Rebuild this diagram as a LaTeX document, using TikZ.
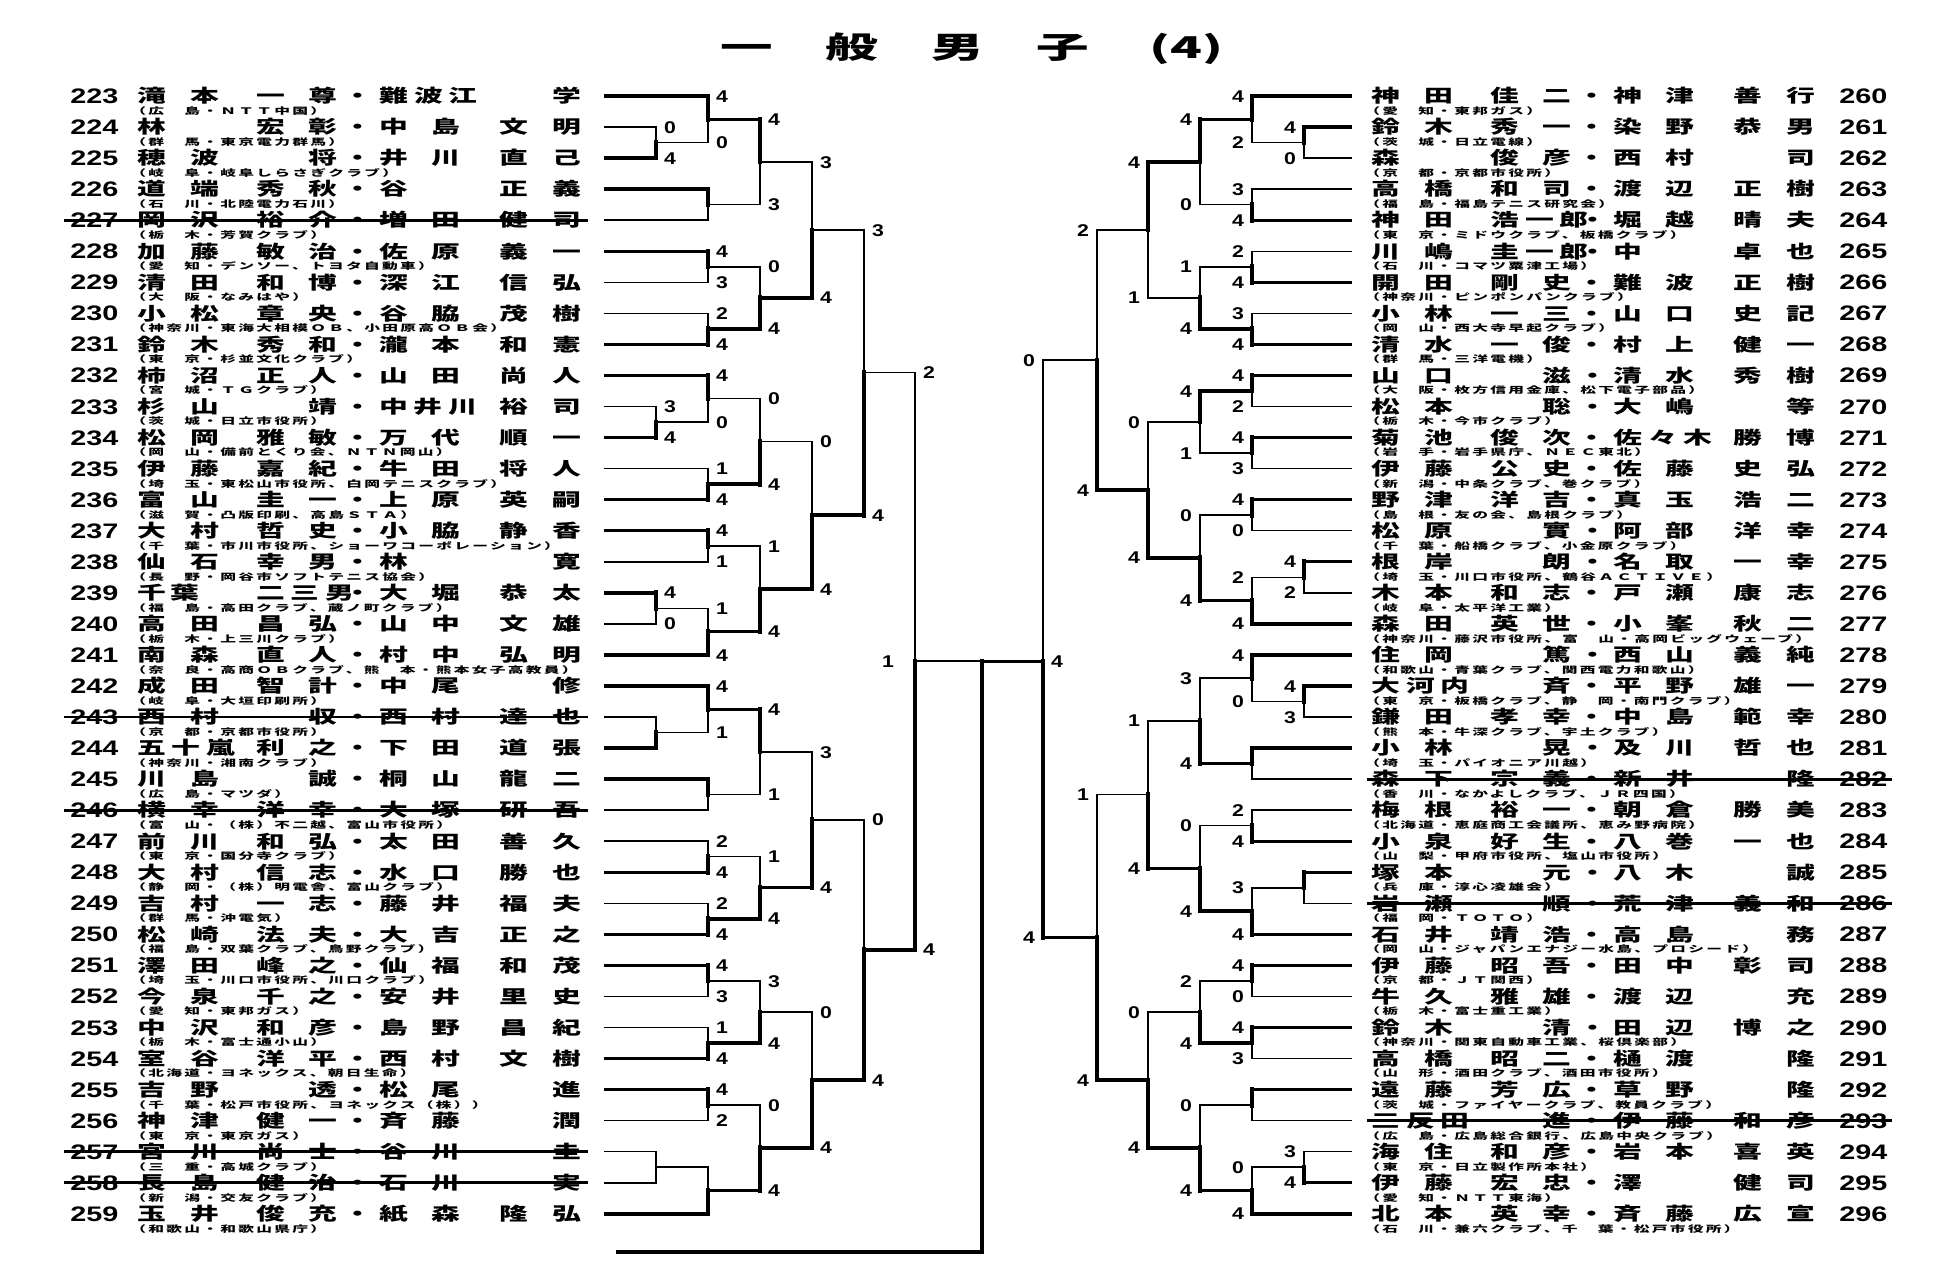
\documentclass[tikz,border=0pt]{standalone}
\usepackage{fontspec}
\usetikzlibrary{calc}
\newfontfamily\cjk{Noto Sans CJK JP}[FakeStretch=1.6]
\newfontfamily\cjkaff{Noto Sans CJK JP}[FakeStretch=1.75,LetterSpace=25]
\newfontfamily\cjkttl{Noto Sans CJK JP}[FakeStretch=1.75]
\newfontfamily\numfont{Liberation Sans}[FakeStretch=1.37]
\newfontfamily\scfont{Liberation Sans}[FakeStretch=1.25]
% name layout: slots A B C D . E F G H
\newcommand\nm[8]{\rlap{#1}\hspace{26.5pt}\rlap{#2}\hspace{33pt}\rlap{#3}\hspace{26pt}\rlap{#4}\hspace{25pt}\makebox[0pt]{・}\hspace{10.5pt}\rlap{#5}\hspace{26pt}\rlap{#6}\hspace{34pt}\rlap{#7}\hspace{26.5pt}#8}
\newcommand\tri[3]{#1\hspace{3pt}#2\hspace{3pt}#3}
\newcommand\duo[2]{#1\hspace{2.5pt}#2}
\tikzset{
 namef/.style={font=\cjk\bfseries\fontsize{9}{9}\selectfont, inner sep=0pt, text height=7.5pt, text depth=0.7pt, anchor=west},
 afff/.style={font=\cjkaff\bfseries\fontsize{4.5}{4.5}\selectfont, inner sep=0pt, text height=3.4pt, text depth=0pt, anchor=west},
 numf/.style={font=\numfont\bfseries\fontsize{10.5}{10.5}\selectfont, inner sep=0pt, text height=7.52pt, text depth=0pt, anchor=west},
 scf/.style={font=\scfont\bfseries\fontsize{8.5}{8.5}\selectfont, inner sep=0pt, text height=6.1pt, text depth=0pt},
 ttlf/.style={font=\cjkttl\bfseries\fontsize{15}{15}\selectfont, inner sep=0pt, text height=11.4pt, text depth=0pt},
 thn/.style={line width=0.75pt, line join=miter},
 thkh/.style={line width=1.7pt},
 thkv/.style={line width=2.4pt, line cap=rect},
 strk/.style={line width=1.4pt},
}
\newcommand\Lrow[4]{%
 \node[numf] (Ln#1) at (70,{96+31.05*#1}) {#2};
 \node[namef] (Lm#1) at (136.8,{96+31.05*#1}) {#3};
 \node[afff] (La#1) at (130,{111+31.05*#1}) {#4};
 \coordinate (L#1) at (604,{96+31.05*#1});}
\newcommand\Rrow[4]{%
 \node[namef] (Rm#1) at (1371,{96+31.05*#1}) {#3};
 \node[numf] (Rn#1) at (1839,{96+31.05*#1}) {#2};
 \node[afff] (Ra#1) at (1364,{111+31.05*#1}) {#4};
 \coordinate (R#1) at (1352,{96+31.05*#1});}
\newcommand\Lstrike[1]{\draw[strk] ([xshift=-3pt]Ln#1.west) -- ([xshift=225.5pt]Lm#1.west);}
\newcommand\Rstrike[1]{\draw[strk] ([xshift=-2pt]Rm#1.west) -- ([xshift=2pt]Rn#1.east);}
\def\lsh{7pt}
\newcommand\mt[7]{%
 \coordinate (#1t) at (#3 -| #2);
 \coordinate (#1b) at (#4 -| #2);
 \coordinate (#1) at ($(#1t)!0.5!(#1b)$);
 \if t#5
   \draw[thn] (#4) -- (#1b) -- (#1);
   \draw[thkh] (#3) -- (#1t);
   \draw[thkv] (#1t) -- (#1);
 \else\if b#5
   \draw[thn] (#3) -- (#1t) -- (#1);
   \draw[thkh] (#4) -- (#1b);
   \draw[thkv] (#1b) -- (#1);
 \else
   \draw[thn] (#3) -- (#1t) -- (#1b) -- (#4);
 \fi\fi
 \if\relax\detokenize{#6}\relax\else \node[scf] (#1tl) at ([xshift=\lsh]#1t) {#6};\fi
 \if\relax\detokenize{#7}\relax\else \node[scf] (#1bl) at ([xshift=\lsh]#1b) {#7};\fi
}
\begin{document}
\begin{tikzpicture}[x=0.5pt,y=-0.5pt]
\fill[white] (0,0) rectangle (1944,1284);
\useasboundingbox (0,0) rectangle (1944,1284);
\node[ttlf] (title) at (972,47) {一\hspace{26.5pt}般\hspace{26.5pt}男\hspace{26.5pt}子\hspace{30pt}(4)};
% ---------------- left entries
\Lrow{0}{223}{\nm{滝}{本}{一}{尊}{\tri{難}{波}{江}}{}{}{学}}{（広　島・ＮＴＴ中国）}
\Lrow{1}{224}{\nm{林}{}{宏}{彰}{中}{島}{文}{明}}{（群　馬・東京電力群馬）}
\Lrow{2}{225}{\nm{穂}{波}{}{将}{井}{川}{直}{己}}{（岐　阜・岐阜しらさぎクラブ）}
\Lrow{3}{226}{\nm{道}{端}{秀}{秋}{谷}{}{正}{義}}{（石　川・北陸電力石川）}
\Lrow{4}{227}{\nm{岡}{沢}{裕}{介}{増}{田}{健}{司}}{（栃　木・芳賀クラブ）}
\Lrow{5}{228}{\nm{加}{藤}{敏}{治}{佐}{原}{義}{一}}{（愛　知・デンソー、トヨタ自動車）}
\Lrow{6}{229}{\nm{清}{田}{和}{博}{深}{江}{信}{弘}}{（大　阪・なみはや）}
\Lrow{7}{230}{\nm{小}{松}{章}{央}{谷}{脇}{茂}{樹}}{（神奈川・東海大相模ＯＢ、小田原高ＯＢ会）}
\Lrow{8}{231}{\nm{鈴}{木}{秀}{和}{瀧}{本}{和}{憲}}{（東　京・杉並文化クラブ）}
\Lrow{9}{232}{\nm{柿}{沼}{正}{人}{山}{田}{尚}{人}}{（宮　城・ＴＧクラブ）}
\Lrow{10}{233}{\nm{杉}{山}{}{靖}{\tri{中}{井}{川}}{}{裕}{司}}{（茨　城・日立市役所）}
\Lrow{11}{234}{\nm{松}{岡}{雅}{敏}{万}{代}{順}{一}}{（岡　山・備前とくり会、ＮＴＮ岡山）}
\Lrow{12}{235}{\nm{伊}{藤}{嘉}{紀}{牛}{田}{将}{人}}{（埼　玉・東松山市役所、白岡テニスクラブ）}
\Lrow{13}{236}{\nm{富}{山}{圭}{一}{上}{原}{英}{嗣}}{（滋　賀・凸版印刷、高島ＳＴＡ）}
\Lrow{14}{237}{\nm{大}{村}{哲}{史}{小}{脇}{静}{香}}{（千　葉・市川市役所、ショーワコーポレーション）}
\Lrow{15}{238}{\nm{仙}{石}{幸}{男}{林}{}{}{寛}}{（長　野・岡谷市ソフトテニス協会）}
\Lrow{16}{239}{\nm{\duo{千}{葉}}{}{\tri{二}{三}{男}}{}{大}{堀}{恭}{太}}{（福　島・高田クラブ、蔵ノ町クラブ）}
\Lrow{17}{240}{\nm{高}{田}{昌}{弘}{山}{中}{文}{雄}}{（栃　木・上三川クラブ）}
\Lrow{18}{241}{\nm{南}{森}{直}{人}{村}{中}{弘}{明}}{（奈　良・高商ＯＢクラブ、熊　本・熊本女子高教員）}
\Lrow{19}{242}{\nm{成}{田}{智}{計}{中}{尾}{}{修}}{（岐　阜・大垣印刷所）}
\Lrow{20}{243}{\nm{西}{村}{}{収}{西}{村}{達}{也}}{（京　都・京都市役所）}
\Lrow{21}{244}{\nm{\tri{五}{十}{嵐}}{}{利}{之}{下}{田}{道}{張}}{（神奈川・湘南クラブ）}
\Lrow{22}{245}{\nm{川}{島}{}{誠}{桐}{山}{龍}{二}}{（広　島・マツダ）}
\Lrow{23}{246}{\nm{横}{幸}{洋}{幸}{大}{塚}{研}{吾}}{（富　山・（株）不二越、富山市役所）}
\Lrow{24}{247}{\nm{前}{川}{和}{弘}{太}{田}{善}{久}}{（東　京・国分寺クラブ）}
\Lrow{25}{248}{\nm{大}{村}{信}{志}{水}{口}{勝}{也}}{（静　岡・（株）明電舎、富山クラブ）}
\Lrow{26}{249}{\nm{吉}{村}{一}{志}{藤}{井}{福}{夫}}{（群　馬・沖電気）}
\Lrow{27}{250}{\nm{松}{崎}{法}{夫}{大}{吉}{正}{之}}{（福　島・双葉クラブ、鳥野クラブ）}
\Lrow{28}{251}{\nm{澤}{田}{峰}{之}{仙}{福}{和}{茂}}{（埼　玉・川口市役所、川口クラブ）}
\Lrow{29}{252}{\nm{今}{泉}{千}{之}{安}{井}{里}{史}}{（愛　知・東邦ガス）}
\Lrow{30}{253}{\nm{中}{沢}{和}{彦}{島}{野}{昌}{紀}}{（栃　木・富士通小山）}
\Lrow{31}{254}{\nm{室}{谷}{洋}{平}{西}{村}{文}{樹}}{（北海道・ヨネックス、朝日生命）}
\Lrow{32}{255}{\nm{吉}{野}{}{透}{松}{尾}{}{進}}{（千　葉・松戸市役所、ヨネックス（株））}
\Lrow{33}{256}{\nm{神}{津}{健}{一}{斉}{藤}{}{潤}}{（東　京・東京ガス）}
\Lrow{34}{257}{\nm{宮}{川}{尚}{士}{谷}{川}{}{圭}}{（三　重・高城クラブ）}
\Lrow{35}{258}{\nm{長}{島}{健}{治}{石}{川}{}{実}}{（新　潟・交友クラブ）}
\Lrow{36}{259}{\nm{玉}{井}{俊}{充}{紙}{森}{隆}{弘}}{（和歌山・和歌山県庁）}
\Lstrike{4}\Lstrike{20}\Lstrike{23}\Lstrike{34}\Lstrike{35}
% ---------------- right entries
\Rrow{0}{260}{\nm{神}{田}{佳}{二}{神}{津}{善}{行}}{（愛　知・東邦ガス）}
\Rrow{1}{261}{\nm{鈴}{木}{秀}{一}{染}{野}{恭}{男}}{（茨　城・日立電線）}
\Rrow{2}{262}{\nm{森}{}{俊}{彦}{西}{村}{}{司}}{（京　都・京都市役所）}
\Rrow{3}{263}{\nm{高}{橋}{和}{司}{渡}{辺}{正}{樹}}{（福　島・福島テニス研究会）}
\Rrow{4}{264}{\nm{神}{田}{\tri{浩}{一}{郎}}{}{堀}{越}{晴}{夫}}{（東　京・ミドウクラブ、板橋クラブ）}
\Rrow{5}{265}{\nm{川}{嶋}{\tri{圭}{一}{郎}}{}{中}{}{卓}{也}}{（石　川・コマツ粟津工場）}
\Rrow{6}{266}{\nm{開}{田}{剛}{史}{難}{波}{正}{樹}}{（神奈川・ピンポンパンクラブ）}
\Rrow{7}{267}{\nm{小}{林}{一}{三}{山}{口}{史}{記}}{（岡　山・西大寺早起クラブ）}
\Rrow{8}{268}{\nm{清}{水}{一}{俊}{村}{上}{健}{一}}{（群　馬・三洋電機）}
\Rrow{9}{269}{\nm{山}{口}{}{滋}{清}{水}{秀}{樹}}{（大　阪・枚方信用金庫、松下電子部品）}
\Rrow{10}{270}{\nm{松}{本}{}{聡}{大}{嶋}{}{等}}{（栃　木・今市クラブ）}
\Rrow{11}{271}{\nm{菊}{池}{俊}{次}{\tri{佐}{々}{木}}{}{勝}{博}}{（岩　手・岩手県庁、ＮＥＣ東北）}
\Rrow{12}{272}{\nm{伊}{藤}{公}{史}{佐}{藤}{史}{弘}}{（新　潟・中条クラブ、巻クラブ）}
\Rrow{13}{273}{\nm{野}{津}{洋}{吉}{真}{玉}{浩}{二}}{（島　根・友の会、島根クラブ）}
\Rrow{14}{274}{\nm{松}{原}{}{實}{阿}{部}{洋}{幸}}{（千　葉・船橋クラブ、小金原クラブ）}
\Rrow{15}{275}{\nm{根}{岸}{}{朗}{名}{取}{一}{幸}}{（埼　玉・川口市役所、鶴谷ＡＣＴＩＶＥ）}
\Rrow{16}{276}{\nm{木}{本}{和}{志}{戸}{瀬}{康}{志}}{（岐　阜・太平洋工業）}
\Rrow{17}{277}{\nm{森}{田}{英}{世}{小}{峯}{秋}{二}}{（神奈川・藤沢市役所、富　山・高岡ビッグウェーブ）}
\Rrow{18}{278}{\nm{住}{岡}{}{篤}{西}{山}{義}{純}}{（和歌山・青葉クラブ、関西電力和歌山）}
\Rrow{19}{279}{\nm{\tri{大}{河}{内}}{}{}{斉}{平}{野}{雄}{一}}{（東　京・板橋クラブ、静　岡・南門クラブ）}
\Rrow{20}{280}{\nm{鎌}{田}{孝}{幸}{中}{島}{範}{幸}}{（熊　本・牛深クラブ、宇土クラブ）}
\Rrow{21}{281}{\nm{小}{林}{}{晃}{及}{川}{哲}{也}}{（埼　玉・パイオニア川越）}
\Rrow{22}{282}{\nm{森}{下}{宗}{義}{新}{井}{}{隆}}{（香　川・なかよしクラブ、ＪＲ四国）}
\Rrow{23}{283}{\nm{梅}{根}{裕}{一}{朝}{倉}{勝}{美}}{（北海道・恵庭商工会議所、恵み野病院）}
\Rrow{24}{284}{\nm{小}{泉}{好}{生}{八}{巻}{一}{也}}{（山　梨・甲府市役所、塩山市役所）}
\Rrow{25}{285}{\nm{塚}{本}{}{元}{八}{木}{}{誠}}{（兵　庫・淳心凌雄会）}
\Rrow{26}{286}{\nm{岩}{瀬}{}{順}{荒}{津}{義}{和}}{（福　岡・ＴＯＴＯ）}
\Rrow{27}{287}{\nm{石}{井}{靖}{浩}{高}{島}{}{務}}{（岡　山・ジャパンエナジー水島、プロシード）}
\Rrow{28}{288}{\nm{伊}{藤}{昭}{吾}{田}{中}{彰}{司}}{（京　都・ＪＴ関西）}
\Rrow{29}{289}{\nm{牛}{久}{雅}{雄}{渡}{辺}{}{充}}{（栃　木・富士重工業）}
\Rrow{30}{290}{\nm{鈴}{木}{}{清}{田}{辺}{博}{之}}{（神奈川・関東自動車工業、桜倶楽部）}
\Rrow{31}{291}{\nm{高}{橋}{昭}{二}{樋}{渡}{}{隆}}{（山　形・酒田クラブ、酒田市役所）}
\Rrow{32}{292}{\nm{遠}{藤}{芳}{広}{草}{野}{}{隆}}{（茨　城・ファイヤークラブ、教員クラブ）}
\Rrow{33}{293}{\nm{\tri{三}{反}{田}}{}{}{進}{伊}{藤}{和}{彦}}{（広　島・広島総合銀行、広島中央クラブ）}
\Rrow{34}{294}{\nm{海}{住}{和}{彦}{岩}{本}{喜}{英}}{（東　京・日立製作所本社）}
\Rrow{35}{295}{\nm{伊}{藤}{宏}{忠}{澤}{}{健}{司}}{（愛　知・ＮＴＴ東海）}
\Rrow{36}{296}{\nm{北}{本}{英}{幸}{斉}{藤}{広}{宣}}{（石　川・兼六クラブ、千　葉・松戸市役所）}
\Rstrike{22}\Rstrike{26}\Rstrike{33}
% ---------------- x levels
\coordinate (XLp) at (656,0);
\coordinate (XL1) at (708,0);
\coordinate (XL2) at (760,0);
\coordinate (XL3) at (812,0);
\coordinate (XL4) at (864,0);
\coordinate (XL5) at (915,0);
\coordinate (XLc) at (982,0);
\coordinate (XRp) at (1304,0);
\coordinate (XR1) at (1252,0);
\coordinate (XR2) at (1200,0);
\coordinate (XR3) at (1148,0);
\coordinate (XR4) at (1097,0);
\coordinate (XR5) at (1043,0);
\coordinate (Lend) at (616,1252);
% ---------------- left bracket
\def\lsh{7pt}
\mt{mla}{XLp}{L1}{L2}{b}{0}{4}
\mt{mlb}{XLp}{L10}{L11}{b}{3}{4}
\mt{mlc}{XLp}{L16}{L17}{t}{4}{0}
\mt{mld}{XLp}{L20}{L21}{b}{}{}
\mt{mle}{XLp}{L34}{L35}{n}{}{}
\mt{ml1a}{XL1}{L0}{mla}{t}{4}{0}
\mt{ml1b}{XL1}{L3}{L4}{t}{}{}
\mt{ml1c}{XL1}{L5}{L6}{t}{4}{3}
\mt{ml1d}{XL1}{L7}{L8}{b}{2}{4}
\mt{ml1e}{XL1}{L9}{mlb}{t}{4}{0}
\mt{ml1f}{XL1}{L12}{L13}{b}{1}{4}
\mt{ml1g}{XL1}{L14}{L15}{t}{4}{1}
\mt{ml1h}{XL1}{mlc}{L18}{b}{1}{4}
\mt{ml1i}{XL1}{L19}{mld}{t}{4}{1}
\mt{ml1j}{XL1}{L22}{L23}{t}{}{}
\mt{ml1k}{XL1}{L24}{L25}{b}{2}{4}
\mt{ml1l}{XL1}{L26}{L27}{b}{2}{4}
\mt{ml1m}{XL1}{L28}{L29}{t}{4}{3}
\mt{ml1n}{XL1}{L30}{L31}{b}{1}{4}
\mt{ml1o}{XL1}{L32}{L33}{t}{4}{2}
\mt{ml1p}{XL1}{mle}{L36}{b}{}{}
\mt{ml2a}{XL2}{ml1a}{ml1b}{t}{4}{3}
\mt{ml2b}{XL2}{ml1c}{ml1d}{b}{0}{4}
\mt{ml2c}{XL2}{ml1e}{ml1f}{b}{0}{4}
\mt{ml2d}{XL2}{ml1g}{ml1h}{b}{1}{4}
\mt{ml2e}{XL2}{ml1i}{ml1j}{t}{4}{1}
\mt{ml2f}{XL2}{ml1k}{ml1l}{b}{1}{4}
\mt{ml2g}{XL2}{ml1m}{ml1n}{b}{3}{4}
\mt{ml2h}{XL2}{ml1o}{ml1p}{b}{0}{4}
\mt{ml3a}{XL3}{ml2a}{ml2b}{b}{3}{4}
\mt{ml3b}{XL3}{ml2c}{ml2d}{b}{0}{4}
\mt{ml3c}{XL3}{ml2e}{ml2f}{b}{3}{4}
\mt{ml3d}{XL3}{ml2g}{ml2h}{b}{0}{4}
\mt{ml4a}{XL4}{ml3a}{ml3b}{b}{3}{4}
\mt{ml4b}{XL4}{ml3c}{ml3d}{b}{0}{4}
\mt{ml5}{XL5}{ml4a}{ml4b}{b}{2}{4}
% ---------------- right bracket
\def\lsh{-7pt}
\mt{mra}{XRp}{R1}{R2}{t}{4}{0}
\mt{mrb}{XRp}{R15}{R16}{t}{4}{2}
\mt{mrc}{XRp}{R19}{R20}{t}{4}{3}
\mt{mrd}{XRp}{R25}{R26}{t}{}{}
\mt{mre}{XRp}{R34}{R35}{b}{3}{4}
\mt{mr1a}{XR1}{R0}{mra}{t}{4}{2}
\mt{mr1b}{XR1}{R3}{R4}{b}{3}{4}
\mt{mr1c}{XR1}{R5}{R6}{b}{2}{4}
\mt{mr1d}{XR1}{R7}{R8}{b}{3}{4}
\mt{mr1e}{XR1}{R9}{R10}{t}{4}{2}
\mt{mr1f}{XR1}{R11}{R12}{t}{4}{3}
\mt{mr1g}{XR1}{R13}{R14}{t}{4}{0}
\mt{mr1h}{XR1}{mrb}{R17}{b}{2}{4}
\mt{mr1i}{XR1}{R18}{mrc}{t}{4}{0}
\mt{mr1j}{XR1}{R21}{R22}{t}{}{}
\mt{mr1k}{XR1}{R23}{R24}{b}{2}{4}
\mt{mr1l}{XR1}{mrd}{R27}{b}{3}{4}
\mt{mr1m}{XR1}{R28}{R29}{t}{4}{0}
\mt{mr1n}{XR1}{R30}{R31}{t}{4}{3}
\mt{mr1o}{XR1}{R32}{R33}{t}{}{}
\mt{mr1p}{XR1}{mre}{R36}{b}{0}{4}
\mt{mr2a}{XR2}{mr1a}{mr1b}{t}{4}{0}
\mt{mr2b}{XR2}{mr1c}{mr1d}{b}{1}{4}
\mt{mr2c}{XR2}{mr1e}{mr1f}{t}{4}{1}
\mt{mr2d}{XR2}{mr1g}{mr1h}{b}{0}{4}
\mt{mr2e}{XR2}{mr1i}{mr1j}{b}{3}{4}
\mt{mr2f}{XR2}{mr1k}{mr1l}{b}{0}{4}
\mt{mr2g}{XR2}{mr1m}{mr1n}{b}{2}{4}
\mt{mr2h}{XR2}{mr1o}{mr1p}{b}{0}{4}
\mt{mr3a}{XR3}{mr2a}{mr2b}{t}{4}{1}
\mt{mr3b}{XR3}{mr2c}{mr2d}{b}{0}{4}
\mt{mr3c}{XR3}{mr2e}{mr2f}{b}{1}{4}
\mt{mr3d}{XR3}{mr2g}{mr2h}{b}{0}{4}
\mt{mr4a}{XR4}{mr3a}{mr3b}{b}{2}{4}
\mt{mr4b}{XR4}{mr3c}{mr3d}{b}{1}{4}
% ---------------- centre / final
\coordinate (mr5t) at (mr4a -| XR5);
\coordinate (mr5b) at (mr4b -| XR5);
\coordinate (mr5) at (ml5 -| XR5);
\coordinate (mfc) at (ml5 -| XLc);
\coordinate (mfb) at (Lend -| XLc);
\draw[thn] (mr4a) -- (mr5t) -- (mr5);
\draw[thn] (ml5) -- (mfc);
\draw[thkh] (mr4b) -- (mr5b);
\draw[thkv] (mr5b) -- (mr5);
\draw[thkh] (mr5) -- (mfc);
\draw[thkv] (mfc) -- (mfb);
\draw[thkh] (mfb) -- (Lend);
\node[scf] (mr5tl) at ([xshift=-7pt]mr5t) {0};
\node[scf] (mr5bl) at ([xshift=-7pt]mr5b) {4};
\node[scf] (mfl) at ([xshift=-13.5pt]ml5) {1};
\node[scf] (mfr) at ([xshift=7pt]mr5) {4};
\end{tikzpicture}
\end{document}
